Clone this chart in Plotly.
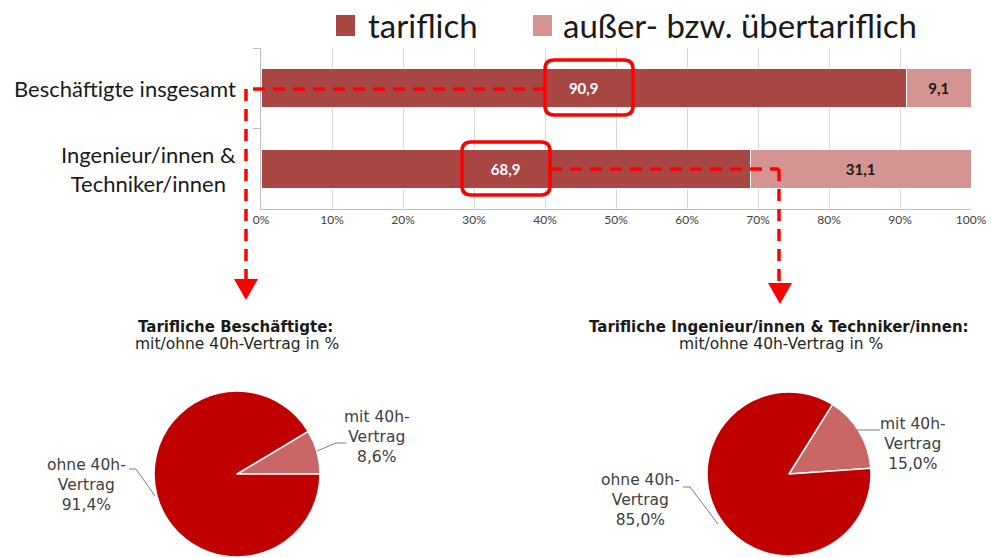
import plotly.graph_objects as go

# ---------------- data ----------------
bar_categories = ["Beschäftigte insgesamt", "Ingenieur/innen &<br>Techniker/innen"]
tariflich = [90.9, 68.9]
ausser_tariflich = [9.1, 31.1]
series_names = ["tariflich", "außer- bzw. übertariflich"]
x_ticks = [0, 10, 20, 30, 40, 50, 60, 70, 80, 90, 100]

pie_labels = ["mit 40h-Vertrag", "ohne 40h-Vertrag"]
pie1_values = [8.6, 91.4]
pie2_values = [15.0, 85.0]
pie1_title = ["Tarifliche Beschäftigte:", "mit/ohne 40h-Vertrag in %"]
pie2_title = ["Tarifliche Ingenieur/innen & Techniker/innen:", "mit/ohne 40h-Vertrag in %"]

# ---------------- style ----------------
W, H = 991, 558
C_TAR = "#A84644"
C_AUS = "#D49492"
C_PIE_OHNE = "#C00000"
C_PIE_MIT = "#C96666"
RED = "#FF0000"
CAL = "Lato, 'Liberation Sans', Arial, sans-serif"
SANS = "'DejaVu Sans', 'Liberation Sans', Arial, sans-serif"


def X(px):
    return px / W


def Y(py):
    return 1 - py / H


def fmt(v):
    return f"{v:.1f}".replace(".", ",") + "%"


fig = go.Figure()

fig.add_trace(go.Bar(
    y=bar_categories, x=tariflich, orientation="h", name=series_names[0],
    marker=dict(color=C_TAR, line=dict(color="white", width=1)),
    texttemplate="<b>%{x:.1f}</b>", textposition="inside", insidetextanchor="middle",
    textfont=dict(family=CAL, size=15, color="white"), showlegend=False,
))
fig.add_trace(go.Bar(
    y=bar_categories, x=ausser_tariflich, orientation="h", name=series_names[1],
    marker=dict(color=C_AUS, line=dict(color="white", width=1)),
    texttemplate="<b>%{x:.1f}</b>", textposition="inside", insidetextanchor="middle",
    textfont=dict(family=CAL, size=15, color="#1a1a1a"), showlegend=False,
))


# pies
def pie_domain(cx, cy, r):
    return dict(x=[X(cx - r), X(cx + r)], y=[Y(cy + r), Y(cy - r)])


def rotation_for(values, end_angle):
    # first slice (counterclockwise) ends at end_angle (clockwise degrees from 12 o'clock)
    return end_angle - 360 * values[0] / sum(values)


fig.add_trace(go.Pie(
    labels=pie_labels, values=pie1_values, sort=False, direction="counterclockwise",
    rotation=rotation_for(pie1_values, 90), textinfo="none", hoverinfo="label+percent",
    marker=dict(colors=[C_PIE_MIT, C_PIE_OHNE], line=dict(color="white", width=1.5)),
    domain=pie_domain(237, 474, 83), showlegend=False,
))
fig.add_trace(go.Pie(
    labels=pie_labels, values=pie2_values, sort=False, direction="counterclockwise",
    rotation=rotation_for(pie2_values, 86), textinfo="none", hoverinfo="label+percent",
    marker=dict(colors=[C_PIE_MIT, C_PIE_OHNE], line=dict(color="white", width=1.5)),
    domain=pie_domain(789, 474, 82), showlegend=False,
))

shapes = []
annotations = []

# legend (manual, large squares)
for sx, tx, color, name in [(336, 366, C_TAR, series_names[0]), (533, 561, C_AUS, series_names[1])]:
    shapes.append(dict(type="rect", xref="paper", yref="paper", x0=X(sx), x1=X(sx + 19),
                       y0=Y(36), y1=Y(15), fillcolor=color, line=dict(width=0)))
    annotations.append(dict(xref="paper", yref="paper", x=X(tx), y=Y(25), xanchor="left",
                            yanchor="middle", text=name, showarrow=False,
                            font=dict(family=CAL, size=33, color="#1a1a1a")))

# category labels (centered multi-line, right-aligned block)
for cat in bar_categories:
    annotations.append(dict(xref="paper", yref="y", x=X(238), y=cat, xanchor="right",
                            yanchor="middle", align="center", text=cat, showarrow=False,
                            font=dict(family=CAL, size=22, color="#1a1a1a")))


def rounded_rect(x0, y0, x1, y1, r):
    pts = (f"M{X(x0 + r)},{Y(y0)} L{X(x1 - r)},{Y(y0)} Q{X(x1)},{Y(y0)} {X(x1)},{Y(y0 + r)} "
           f"L{X(x1)},{Y(y1 - r)} Q{X(x1)},{Y(y1)} {X(x1 - r)},{Y(y1)} "
           f"L{X(x0 + r)},{Y(y1)} Q{X(x0)},{Y(y1)} {X(x0)},{Y(y1 - r)} "
           f"L{X(x0)},{Y(y0 + r)} Q{X(x0)},{Y(y0)} {X(x0 + r)},{Y(y0)} Z")
    return dict(type="path", xref="paper", yref="paper", path=pts,
                line=dict(color=RED, width=3.5))


shapes.append(rounded_rect(545, 60, 633, 115, 9))
shapes.append(rounded_rect(462, 142, 550, 195, 9))


def dline(x0, y0, x1, y1):
    return dict(type="line", xref="paper", yref="paper", x0=X(x0), y0=Y(y0), x1=X(x1), y1=Y(y1),
                line=dict(color=RED, width=3.5, dash="12px,8px"))


shapes.append(dline(545, 89, 246, 89))
shapes.append(dline(246, 89, 246, 280))
shapes.append(dline(550, 169, 779, 169))
shapes.append(dline(779, 169, 779, 283))
for ax, ay in [(246, 279), (780, 283)]:
    shapes.append(dict(type="path", xref="paper", yref="paper",
                       path=f"M{X(ax - 12)},{Y(ay)} L{X(ax + 12)},{Y(ay)} L{X(ax)},{Y(ay + 21)} Z",
                       fillcolor=RED, line=dict(width=0)))

# pie titles
for cx, lines in [(235, pie1_title), (779, pie2_title)]:
    annotations.append(dict(xref="paper", yref="paper", x=X(cx), y=Y(327), text=f"<b>{lines[0]}</b>",
                            showarrow=False, xanchor="center", yanchor="middle",
                            font=dict(family=SANS, size=15, color="#1a1a1a")))
    annotations.append(dict(xref="paper", yref="paper", x=X(cx + 2), y=Y(344), text=lines[1],
                            showarrow=False, xanchor="center", yanchor="middle",
                            font=dict(family=SANS, size=15.5, color="#262626")))


# pie labels
def pie_label(cx, cy, name, value):
    first, second = name.replace("-Vertrag", "-"), "Vertrag"
    return dict(xref="paper", yref="paper", x=X(cx), y=Y(cy), xanchor="center", yanchor="middle",
                text=f"{first}<br>{second}<br>{fmt(value)}", showarrow=False, align="center",
                font=dict(family=SANS, size=15.5, color="#404040"))


annotations.append(pie_label(377, 437, pie_labels[0], pie1_values[0]))
annotations.append(pie_label(86, 485, pie_labels[1], pie1_values[1]))
annotations.append(pie_label(913, 444, pie_labels[0], pie2_values[0]))
annotations.append(pie_label(640, 500, pie_labels[1], pie2_values[1]))


def leader(pts):
    path = "M" + " L".join(f"{X(a)},{Y(b)}" for a, b in pts)
    return dict(type="path", xref="paper", yref="paper", path=path,
                line=dict(color="#7f7f7f", width=1))


shapes.append(leader([(317, 451), (336, 443), (346, 443)]))
shapes.append(leader([(129, 469), (136, 469), (155, 496)]))
shapes.append(leader([(857, 430), (880, 430)]))
shapes.append(leader([(683, 487), (690, 487), (718, 524)]))

fig.update_layout(
    width=W, height=H,
    margin=dict(l=0, r=0, t=0, b=0, autoexpand=False),
    paper_bgcolor="white", plot_bgcolor="white",
    barmode="stack", bargap=0.52,
    separators=",.",
    shapes=shapes, annotations=annotations,
    xaxis=dict(domain=[X(261), X(971)], range=[0, 100], tickvals=x_ticks,
               ticktext=[f"{t}%" for t in x_ticks], showgrid=True, gridcolor="#D9D9D9",
               gridwidth=1, zeroline=False, showline=True, linecolor="#BFBFBF",
               ticks="", tickfont=dict(family=CAL, size=12, color="#404040"),
               automargin=False, fixedrange=True),
    yaxis=dict(domain=[Y(209), Y(48)], autorange="reversed", showline=True,
               linecolor="#BFBFBF", ticks="outside", tickson="boundaries", ticklen=7,
               tickcolor="#BFBFBF", showticklabels=False, showgrid=False,
               automargin=False, fixedrange=True),
)

fig.write_html(
    "out.html",
    config={"displayModeBar": False},
    post_script="document.body.style.margin='0';document.body.style.padding='0';"
                "document.body.style.overflow='hidden';",
)
